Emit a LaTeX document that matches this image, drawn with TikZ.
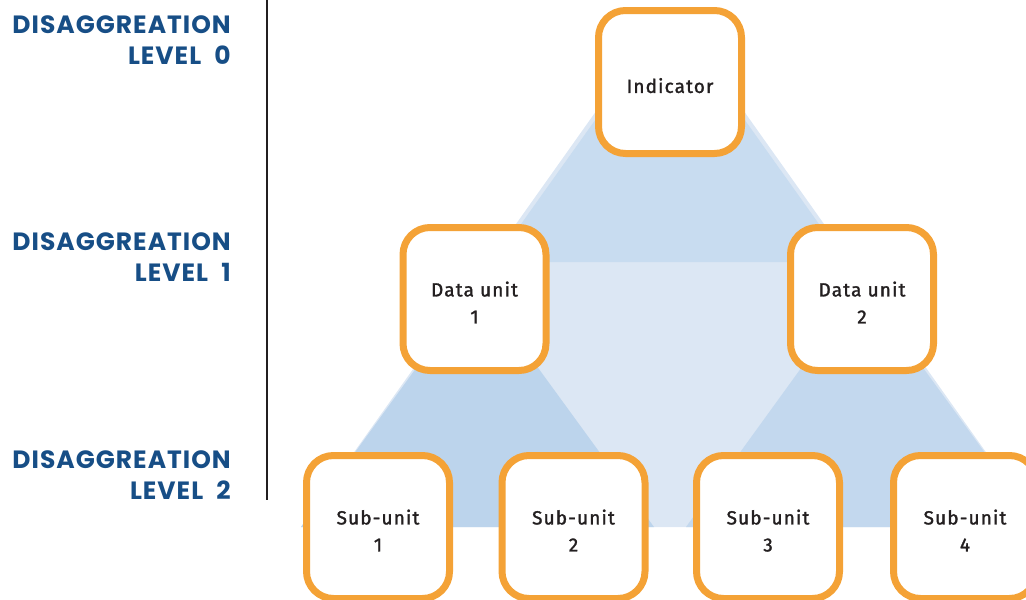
\documentclass[tikz,border=0pt]{standalone}
\usepackage{fontspec}
\newfontfamily\boxfont{Fira Sans}[LetterSpace=6, FakeBold=1.5]
\newfontfamily\lvlfont{Poppins}[LetterSpace=4]
\definecolor{boxorange}{HTML}{F4A236}
\definecolor{lvlblue}{HTML}{174E86}
\definecolor{inkdark}{HTML}{231F20}
\definecolor{blueA}{HTML}{DCE7F4}
\definecolor{blueB}{HTML}{C8DCF0}
\definecolor{blueC}{HTML}{BCD4EC}
\definecolor{blueD}{HTML}{C3D8EE}
% box caption, with extra room on top so it sits a little below the centre
\newcommand\boxcap[1]{\raisebox{0pt}[\dimexpr\height+11pt\relax][\depth]{\begin{tabular}{@{}c@{}}#1\end{tabular}}}
\begin{document}
\begin{tikzpicture}[x=1pt,y=-1pt,
  unitbox/.style={draw=boxorange, line width=7pt, fill=white,
    rounded corners=27pt, minimum width=143pt, minimum height=143pt,
    inner sep=0pt, align=center, text=inkdark,
    font=\boxfont\fontsize{19}{27}\selectfont\renewcommand\arraystretch{1}},
  lvllabel/.style={anchor=north east, inner sep=0pt, align=right,
    text=lvlblue, font=\lvlfont\bfseries\fontsize{25}{31}\selectfont}]
\useasboundingbox (0,0) rectangle (1026,600);
\clip (0,0) rectangle (1026,600);

% background pyramid
\fill[blueA] (301,527) -- (670,7) -- (1039,527) -- cycle;
\fill[blueB] (494,262) -- (670,15) -- (846,262) -- cycle;
\fill[blueC] (301,527) -- (477,284) -- (654,527) -- cycle;
\fill[blueD] (686,527) -- (862,284) -- (1039,527) -- cycle;

% separator
\coordinate (sepTop) at (267,0);
\coordinate (sepBot) at (267,500);
\draw[line width=2.6pt, inkdark] (sepTop) -- (sepBot);

% level labels
\node[lvllabel] (lv0) at (231,15) {DISAGGREATION\\LEVEL\hspace{7pt} 0};
\node[lvllabel] (lv1) at (231,232) {DISAGGREATION\\LEVEL\hspace{7pt} 1};
\node[lvllabel] (lv2) at (231,450) {DISAGGREATION\\LEVEL\hspace{7pt} 2};

% boxes
\node[unitbox] (ind) at (670,82) {\boxcap{Indicator}};
\node[unitbox] (du1) at (474.5,299) {\boxcap{Data unit\\1}};
\node[unitbox] (du2) at (862,299) {\boxcap{Data unit\\2}};
\node[unitbox] (su1) at (378,527) {\boxcap{Sub-unit\\1}};
\node[unitbox] (su2) at (573.5,527) {\boxcap{Sub-unit\\2}};
\node[unitbox] (su3) at (768,527) {\boxcap{Sub-unit\\3}};
\node[unitbox] (su4) at (965,527) {\boxcap{Sub-unit\\4}};
\end{tikzpicture}
\end{document}
